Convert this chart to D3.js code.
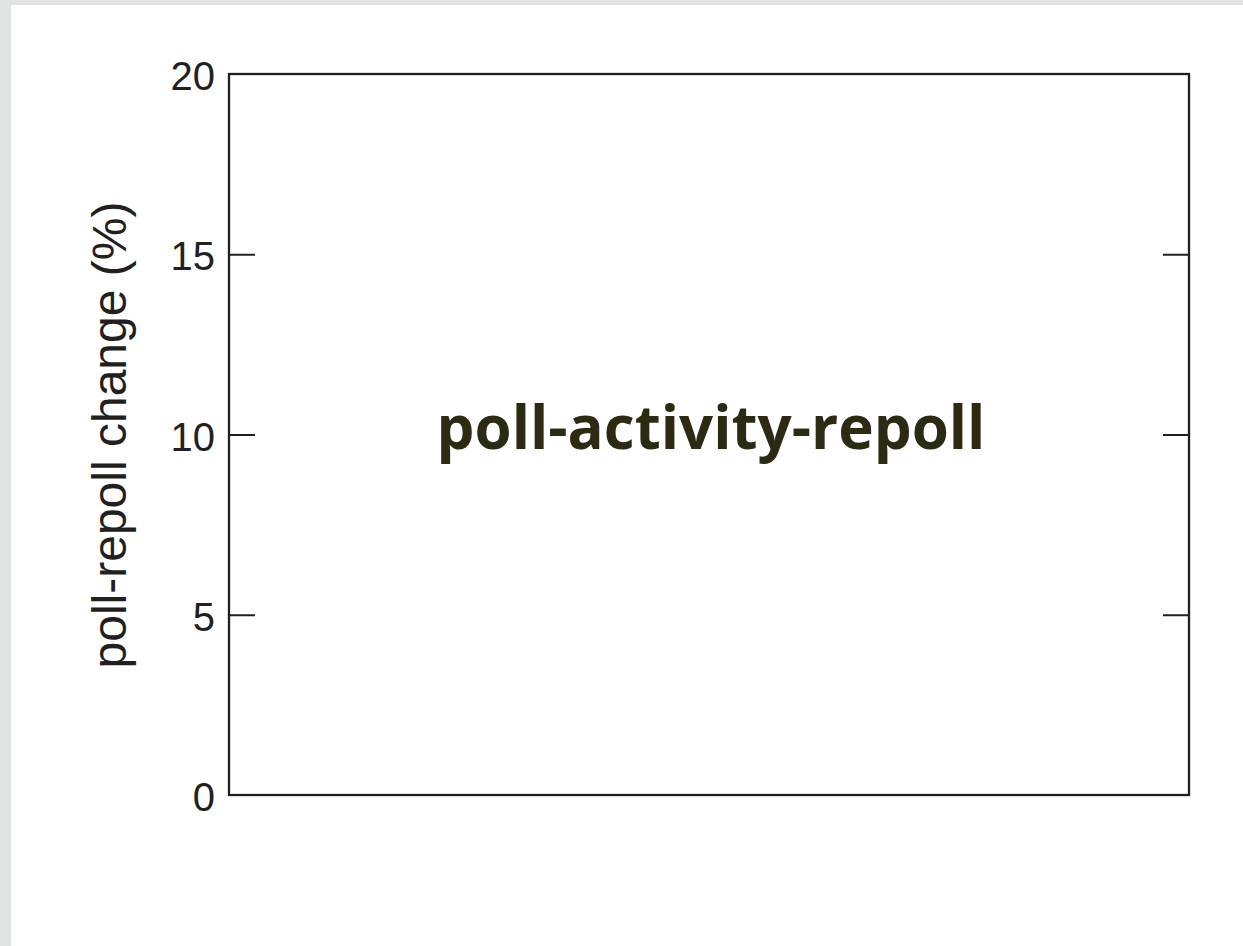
<!DOCTYPE html>
<html><head><meta charset="utf-8">
<script src="https://cdn.jsdelivr.net/npm/d3@7"></script>
<style>html,body{margin:0;padding:0;background:#fff;overflow:hidden}</style>
</head><body>
<script>
const yDomain = [0, 20];
const yTickValues = [0, 5, 10, 15, 20];
const yLabel = "poll-repoll change (%)";
const titleText = "poll-activity-repoll";

const W = 1243, H = 946;
const svg = d3.select("body").append("svg").attr("width", W).attr("height", H);
svg.append("rect").attr("width", W).attr("height", H).attr("fill", "#e2e3e5");
svg.append("rect").attr("x", 11).attr("y", 5).attr("width", W - 11).attr("height", H - 5).attr("fill", "#fff");

const L = 229, R = 1189, T = 74, B = 795;
const y = d3.scaleLinear().domain(yDomain).range([B, T]);
const ink = "#231f20";

const left = svg.append("g").attr("transform", `translate(${L},0)`)
  .call(d3.axisLeft(y).tickValues(yTickValues).tickSize(-26).tickPadding(14).tickFormat(d3.format("d")));
left.select(".domain").remove();
left.selectAll(".tick line").attr("stroke", ink).attr("stroke-width", 2)
  .filter(d => d === yDomain[0] || d === yDomain[1]).remove();
left.selectAll(".tick text").attr("fill", ink).style("font-family", "'Liberation Sans', Arial, sans-serif").style("font-size", "40px").attr("dy", "0.39em");

const right = svg.append("g").attr("transform", `translate(${R},0)`)
  .call(d3.axisRight(y).tickValues(yTickValues).tickSize(-26).tickFormat(""));
right.select(".domain").remove();
right.selectAll(".tick line").attr("stroke", ink).attr("stroke-width", 2)
  .filter(d => d === yDomain[0] || d === yDomain[1]).remove();

svg.append("rect").attr("x", L).attr("y", T).attr("width", R - L).attr("height", B - T)
  .attr("fill", "none").attr("stroke", ink).attr("stroke-width", 2.3);

svg.append("text").attr("transform", `translate(126,435) rotate(-90)`)
  .attr("text-anchor", "middle").attr("fill", ink)
  .style("font-family", "'Liberation Sans', Arial, sans-serif").style("font-size", "48px")
  .text(yLabel);

svg.append("text").attr("x", 711).attr("y", 449).attr("text-anchor", "middle")
  .attr("fill", "#2d2a14").style("font-family", "'Open Sans', sans-serif").style("font-weight", "bold").style("font-size", "60px")
  .text(titleText);
</script>
</body></html>
